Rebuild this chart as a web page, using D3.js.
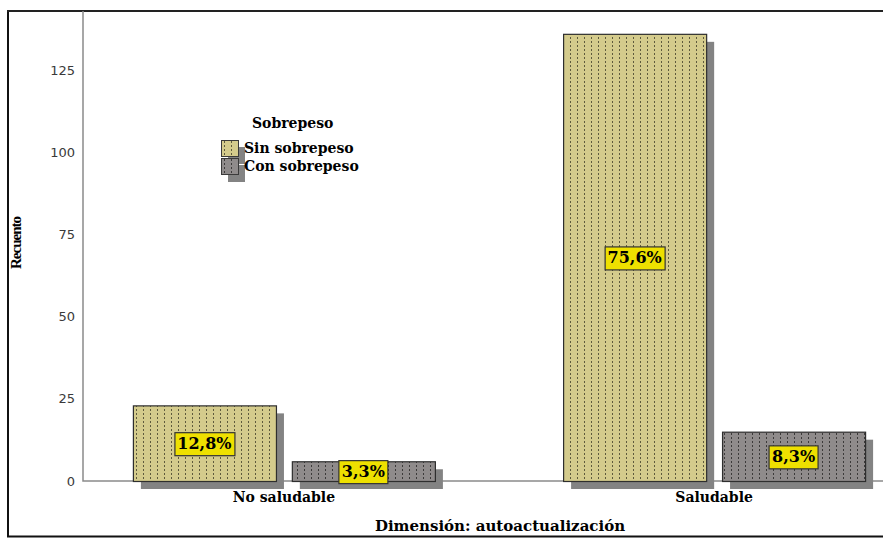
<!DOCTYPE html>
<html>
<head>
<meta charset="utf-8">
<script src="https://cdn.jsdelivr.net/npm/d3@7"></script>
<style>
  body { margin: 0; background: #fff; }
  svg { display: block; }
</style>
</head>
<body>
<div class="chart"></div>
<script>
// data (N = 180)
var categories = ["No saludable", "Saludable"];
var seriesNames = ["Sin sobrepeso", "Con sobrepeso"];
var sinSobrepeso = [23, 136];
var conSobrepeso = [6, 15];
var pctLabels = [["12,8%", "3,3%"], ["75,6%", "8,3%"]];
var yTicks = [0, 25, 50, 75, 100, 125];

var svgWidth = 883;
var svgHeight = 538;

var svg = d3.select(".chart")
  .append("svg")
  .attr("width", svgWidth)
  .attr("height", svgHeight);

var fills = { "Sin sobrepeso": "#d4cb8c", "Con sobrepeso": "#8f8b8b" };
var dots = { "Sin sobrepeso": "#5e5a3c", "Con sobrepeso": "#3c3a3a" };

// dotted vertical line patterns
var defs = svg.append("defs");
seriesNames.forEach(function (s, i) {
  var p = defs.append("pattern")
    .attr("id", "pat" + i)
    .attr("patternUnits", "userSpaceOnUse")
    .attr("width", 7)
    .attr("height", 4);
  p.append("rect").attr("width", 7).attr("height", 4).attr("fill", fills[s]);
  p.append("rect").attr("x", 3).attr("y", 1).attr("width", 1).attr("height", 2).attr("fill", dots[s]);
});

var axisX = 83, baseY = 481, topY = 11;

var y = d3.scaleLinear()
  .domain([0, 125])
  .range([baseY, 70]);

var x0 = d3.scaleBand()
  .domain(categories)
  .range([axisX, 915])
  .paddingInner(0.298)
  .paddingOuter(0.116);

var x1 = d3.scaleBand()
  .domain(seriesNames)
  .range([0, x0.bandwidth()])
  .paddingInner(0.1);

var serif = "DejaVu Serif, serif";

// frame
svg.append("line").attr("x1", 8).attr("x2", 8).attr("y1", 10).attr("y2", 537)
  .attr("stroke", "#111").attr("stroke-width", 2);
svg.append("line").attr("x1", 7).attr("x2", svgWidth).attr("y1", 11).attr("y2", 11)
  .attr("stroke", "#222").attr("stroke-width", 2);

// y axis
var leftAxis = d3.axisLeft(y).tickValues(yTicks).tickSize(0).tickPadding(8);
var gy = svg.append("g")
  .attr("transform", "translate(" + axisX + ",0)")
  .call(leftAxis);
gy.select(".domain").remove();
gy.selectAll("text")
  .attr("font-family", "DejaVu Sans, sans-serif")
  .attr("font-size", 13)
  .attr("fill", "#3a3a3a");

svg.append("path")
  .attr("d", "M" + axisX + "," + topY + "V" + baseY + "H" + svgWidth)
  .attr("fill", "none")
  .attr("stroke", "#8a8a8a")
  .attr("stroke-width", 1.5);

// bars
var rows = [];
categories.forEach(function (c, ci) {
  rows.push({ cat: c, s: seriesNames[0], si: 0, v: sinSobrepeso[ci], lab: pctLabels[ci][0] });
  rows.push({ cat: c, s: seriesNames[1], si: 1, v: conSobrepeso[ci], lab: pctLabels[ci][1] });
});

var barG = svg.append("g");

barG.selectAll(".shadow")
  .data(rows)
  .enter()
  .append("rect")
  .attr("class", "shadow")
  .attr("x", d => x0(d.cat) + x1(d.s) + 8)
  .attr("y", d => y(d.v) + 8)
  .attr("width", x1.bandwidth())
  .attr("height", d => baseY - y(d.v))
  .attr("fill", "#838383");

barG.selectAll(".bar")
  .data(rows)
  .enter()
  .append("rect")
  .attr("class", "bar")
  .attr("x", d => x0(d.cat) + x1(d.s) + 0.5)
  .attr("y", d => y(d.v) + 0.5)
  .attr("width", x1.bandwidth())
  .attr("height", d => baseY - y(d.v))
  .attr("fill", d => "url(#pat" + d.si + ")")
  .attr("stroke", "#2e2e2e")
  .attr("stroke-width", 1.2);

// percentage labels
var labG = barG.selectAll(".lab")
  .data(rows)
  .enter()
  .append("g")
  .attr("class", "lab")
  .attr("transform", d => "translate(" + (x0(d.cat) + x1(d.s) + x1.bandwidth() / 2) + "," + ((y(d.v) + baseY) / 2) + ")");

labG.append("text")
  .attr("text-anchor", "middle")
  .attr("dy", "0.36em")
  .attr("font-family", serif)
  .attr("font-weight", "bold")
  .attr("font-size", 16)
  .attr("fill", "#000")
  .text(d => d.lab);

labG.each(function () {
  var g = d3.select(this);
  var bb = g.select("text").node().getBBox();
  g.insert("rect", "text")
    .attr("x", Math.round(bb.x - 3) + 0.5)
    .attr("y", Math.round(bb.y - 2) + 0.5)
    .attr("width", Math.round(bb.width + 6))
    .attr("height", Math.round(bb.height + 4))
    .attr("fill", "#eee000")
    .attr("stroke", "#333")
    .attr("stroke-width", 1.2);
});

// category labels
svg.selectAll(".cat")
  .data(categories)
  .enter()
  .append("text")
  .attr("x", d => x0(d) + x0.bandwidth() / 2)
  .attr("y", 502)
  .attr("text-anchor", "middle")
  .attr("font-family", serif)
  .attr("font-weight", "bold")
  .attr("font-size", 14)
  .text(d => d);

// axis titles
svg.append("text")
  .attr("x", 500)
  .attr("y", 531)
  .attr("text-anchor", "middle")
  .attr("font-family", serif)
  .attr("font-weight", "bold")
  .attr("font-size", 15)
  .text("Dimensión: autoactualización");

svg.append("line").attr("x1", 7).attr("x2", svgWidth).attr("y1", 536.5).attr("y2", 536.5)
  .attr("stroke", "#111").attr("stroke-width", 2);

svg.append("text")
  .attr("transform", "translate(21,243) rotate(-90)")
  .attr("text-anchor", "middle")
  .attr("font-family", "Liberation Serif, serif")
  .attr("font-weight", "bold")
  .attr("font-size", 15)
  .attr("letter-spacing", -1)
  .text("Recuento");

// legend
var legend = svg.append("g").attr("transform", "translate(221,0)");
legend.append("text")
  .attr("x", 31)
  .attr("y", 128)
  .attr("font-family", serif)
  .attr("font-weight", "bold")
  .attr("font-size", 14)
  .text("Sobrepeso");

var li = legend.selectAll(".li")
  .data(seriesNames)
  .enter()
  .append("g")
  .attr("class", "li")
  .attr("transform", (d, i) => "translate(0," + (140 + i * 18) + ")");

li.append("rect")
  .attr("x", 7).attr("y", 7)
  .attr("width", 17).attr("height", 17)
  .attr("fill", "#838383");
li.append("rect")
  .attr("x", 0.5).attr("y", 0.5)
  .attr("width", 17).attr("height", 16)
  .attr("fill", (d, i) => "url(#pat" + i + ")")
  .attr("stroke", "#3a3a3a");
li.append("text")
  .attr("x", 23)
  .attr("y", 13)
  .attr("font-family", serif)
  .attr("font-weight", "bold")
  .attr("font-size", 14)
  .text(d => d);
</script>
</body>
</html>
